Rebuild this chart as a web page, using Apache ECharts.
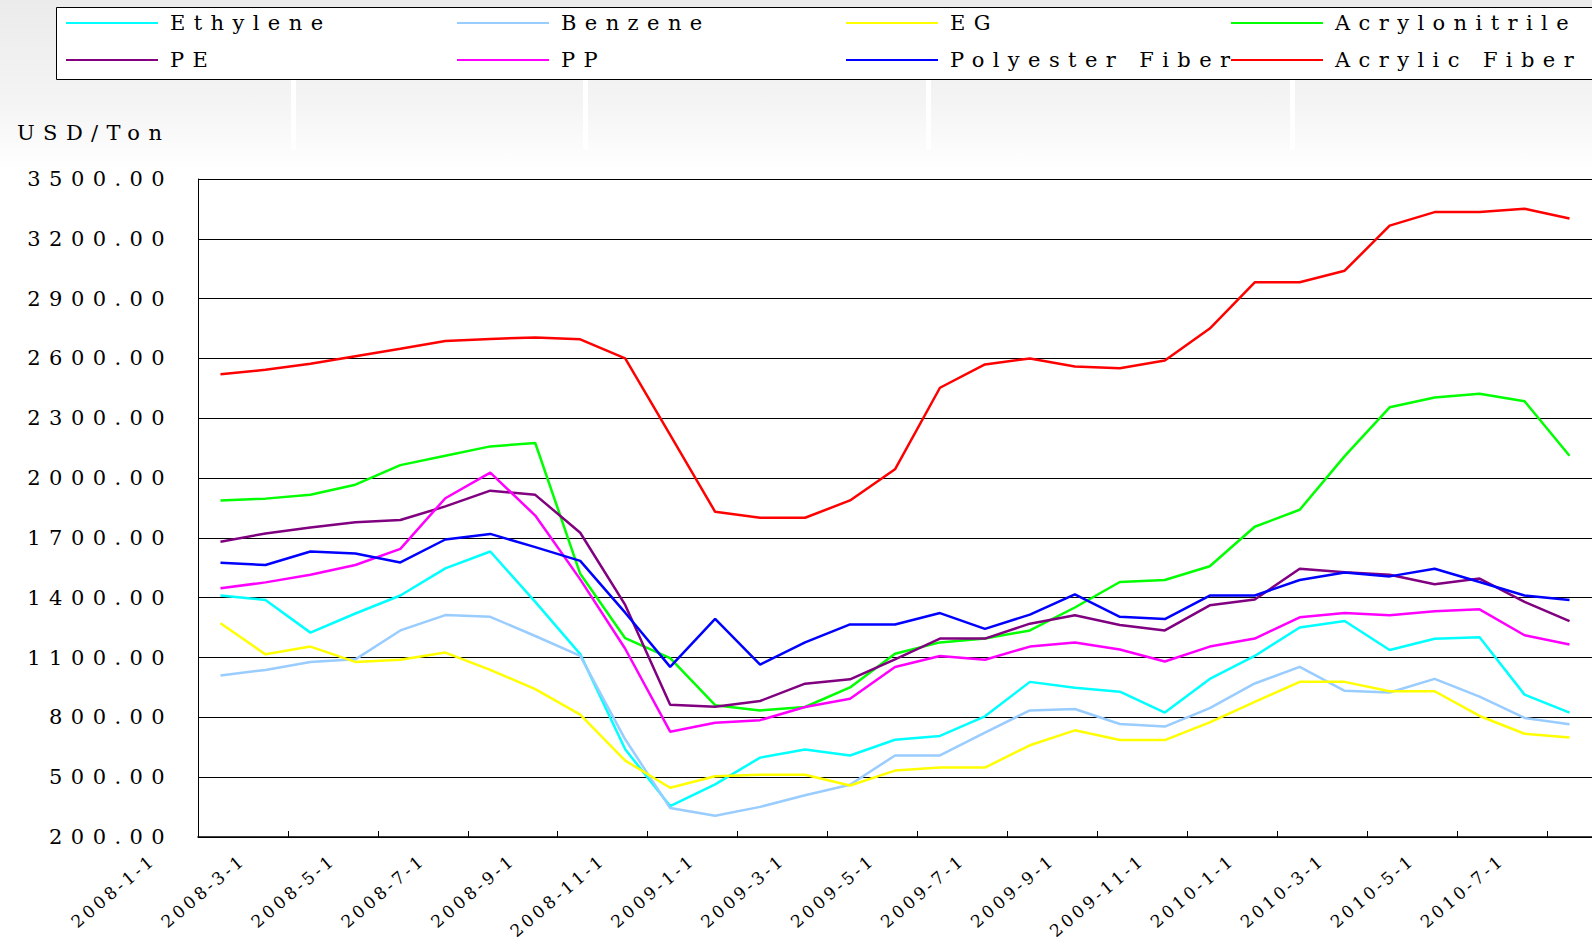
<!DOCTYPE html>
<html>
<head>
<meta charset="utf-8">
<script src="https://cdn.jsdelivr.net/npm/echarts@6/dist/echarts.min.js"></script>
<style>
  html, body { margin: 0; padding: 0; background: #fff; }
  #chart { width: 1592px; height: 943px; }
</style>
</head>
<body>
<div id="chart"></div>
<script>
const categories = [
  '2008-1-1','2008-2-1','2008-3-1','2008-4-1','2008-5-1','2008-6-1','2008-7-1','2008-8-1','2008-9-1','2008-10-1','2008-11-1','2008-12-1',
  '2009-1-1','2009-2-1','2009-3-1','2009-4-1','2009-5-1','2009-6-1','2009-7-1','2009-8-1','2009-9-1','2009-10-1','2009-11-1','2009-12-1',
  '2010-1-1','2010-2-1','2010-3-1','2010-4-1','2010-5-1','2010-6-1','2010-7-1'
];
const ethylene = [1411,1389,1225,1321,1411,1547,1632,1379,1117,640,355,464,598,639,609,688,707,805,978,948,929,824,993,1108,1251,1283,1138,1194,1202,914,824];
const benzene = [1010,1038,1078,1091,1236,1313,1304,1208,1108,690,345,307,351,409,462,609,609,724,835,842,767,754,846,970,1053,933,925,993,904,797,765];
const eg = [1272,1116,1155,1078,1089,1125,1038,942,814,583,447,505,512,512,458,533,548,548,660,735,686,686,775,878,978,978,931,931,807,718,699];
const acrylonitrile = [1888,1897,1916,1967,2065,2112,2159,2176,1520,1197,1097,861,835,852,950,1119,1176,1195,1236,1351,1479,1489,1558,1756,1841,2110,2355,2404,2423,2385,2112];
const pe = [1681,1722,1752,1779,1790,1858,1937,1916,1726,1364,863,853,882,969,991,1091,1195,1195,1270,1312,1263,1236,1362,1391,1545,1528,1515,1468,1496,1379,1283];
const pp = [1447,1477,1515,1564,1645,1899,2027,1812,1492,1144,728,773,786,852,893,1053,1108,1089,1155,1176,1140,1080,1155,1195,1302,1323,1312,1332,1342,1212,1165];
const polyesterFiber = [1575,1564,1632,1622,1577,1692,1720,1654,1585,1325,1053,1294,1065,1176,1266,1266,1323,1244,1315,1417,1304,1293,1411,1411,1489,1526,1507,1545,1479,1411,1389];
const acrylicFiber = [2521,2543,2573,2611,2649,2688,2698,2705,2696,2600,2217,1831,1801,1801,1888,2044,2453,2570,2600,2560,2551,2590,2750,2982,2982,3040,3266,3334,3334,3351,3302];

const seriesNames = ['Ethylene','Benzene','EG','Acrylonitrile','PE','PP','Polyester Fiber','Acrylic Fiber'];
const seriesData = [ethylene, benzene, eg, acrylonitrile, pe, pp, polyesterFiber, acrylicFiber];
const seriesColors = ['#00FFFF','#99CCFF','#FFFF00','#00FF00','#800080','#FF00FF','#0000FF','#FF0000'];
const yTickMin = 200, yTickMax = 3500, yTickStep = 300;

const FONT = 'DejaVu Serif';
const BIG = 21, SMALL = 17;
const legendCols = [66, 457, 846, 1231];
const legendRows = [23, 60];
const legends = seriesNames.map((name, i) => ({
  data: [name],
  left: legendCols[i % 4],
  top: legendRows[Math.floor(i / 4)] - 12,
  padding: 0,
  icon: 'rect',
  itemWidth: 92,
  itemHeight: 2,
  selectedMode: false,
  textStyle: { fontFamily: FONT, fontSize: BIG, color: '#000', lineHeight: 24, padding: [0, 0, 0, 7] }
}));

const chart = echarts.init(document.getElementById('chart'), null, { renderer: 'svg' });
chart.setOption({
  animation: false,
  backgroundColor: '#fff',
  graphic: [
    { type: 'rect', z: -10, silent: true, shape: { x: 0, y: 0, width: 1592, height: 170 },
      style: { fill: new echarts.graphic.LinearGradient(0, 0, 0, 1, [
        { offset: 0, color: '#ebebeb' }, { offset: 0.6, color: '#f4f4f4' }, { offset: 1, color: '#ffffff' }]) } },
    { type: 'rect', z: -9, silent: true, shape: { x: 291, y: 80, width: 5, height: 70 }, style: { fill: '#ffffff' } },
    { type: 'rect', z: -9, silent: true, shape: { x: 583, y: 80, width: 5, height: 70 }, style: { fill: '#ffffff' } },
    { type: 'rect', z: -9, silent: true, shape: { x: 926, y: 80, width: 5, height: 70 }, style: { fill: '#ffffff' } },
    { type: 'rect', z: -9, silent: true, shape: { x: 1290, y: 80, width: 5, height: 70 }, style: { fill: '#ffffff' } },
    { type: 'rect', z: -5, silent: true, shape: { x: 56.5, y: 7.5, width: 1600, height: 72 },
      style: { fill: '#ffffff', stroke: '#000', lineWidth: 1 } }
  ],
  title: {
    text: 'USD/Ton', left: 17, top: 122, padding: 0,
    textStyle: { fontFamily: FONT, fontSize: BIG, fontWeight: 'normal', color: '#000' }
  },
  legend: legends,
  grid: { left: 198, top: 179, height: 658, width: 1404, containLabel: false },
  xAxis: {
    type: 'category',
    data: categories,
    boundaryGap: true,
    axisLine: { show: true, lineStyle: { color: '#000', width: 1.5 } },
    axisTick: { show: true, inside: true, length: 6, interval: 1, lineStyle: { color: '#000' } },
    axisLabel: {
      interval: 1, rotate: 40, margin: -36, padding: [0, 88, 0, 0],
      fontFamily: FONT, fontSize: SMALL, color: '#000'
    },
    splitLine: { show: false }
  },
  yAxis: {
    type: 'value',
    min: yTickMin, max: yTickMax, interval: yTickStep,
    axisLine: { show: true, lineStyle: { color: '#000', width: 1 } },
    axisTick: { show: true, inside: true, length: 8, lineStyle: { color: '#000' } },
    axisLabel: { margin: 25, fontFamily: FONT, fontSize: BIG, color: '#000',
      formatter: v => v.toFixed(2) },
    splitLine: { show: true, lineStyle: { color: '#000', width: 1 } }
  },
  series: seriesNames.map((name, i) => ({
    name, type: 'line', data: seriesData[i], symbol: 'none', showSymbol: false,
    color: seriesColors[i],
    lineStyle: { color: seriesColors[i], width: 2.5 },
    emphasis: { disabled: true }
  }))
});

function applySpacing() {
  document.querySelectorAll('#chart text').forEach(t => {
    const fs = parseFloat(getComputedStyle(t).fontSize) || 12;
    t.style.letterSpacing = (fs < 19 ? 0.2 : 0.4) + 'em';
  });
}
applySpacing();
chart.on('finished', applySpacing);
setTimeout(applySpacing, 0);
</script>
</body>
</html>
